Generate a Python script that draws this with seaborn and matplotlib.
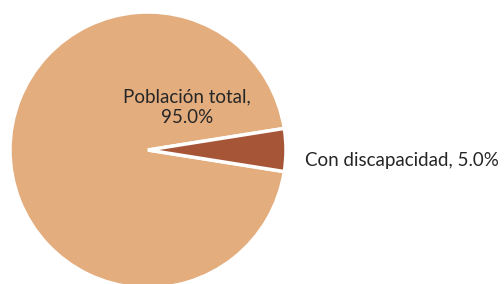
import matplotlib
matplotlib.use("Agg")
import matplotlib.pyplot as plt
import seaborn as sns

# data
categories = ["Población total", "Con discapacidad"]
values = [95.0, 5.0]
colors = ["#E3AD7E", "#A65537"]

sns.set_theme(style="white")
plt.rcParams["font.family"] = ["Lato", "DejaVu Sans"]

fig = plt.figure(figsize=(5.04, 2.84), dpi=100)
# pie runs off the bottom edge in the reference
ax = fig.add_axes([10 / 504, -4 / 284, 276 / 504, 276 / 284])

wedges, _ = ax.pie(
    values,
    colors=colors,
    startangle=9,
    counterclock=True,
    radius=1,
    wedgeprops=dict(edgecolor="white", linewidth=2.5),
)
ax.set_xlim(-1, 1)
ax.set_ylim(-1, 1)
ax.set_aspect("equal")
ax.axis("off")

total = sum(values)
pct = [v / total * 100 for v in values]

ax.text(0.28, 0.31, f"{categories[0]},\n{pct[0]:.1f}%", ha="center", va="center",
        fontsize=13.5, color="#262626", linespacing=1.25)
ax.text(1.135, -0.075, f"{categories[1]}, {pct[1]:.1f}%", ha="left", va="center",
        fontsize=13.5, color="#262626")

fig.savefig("out.png", dpi=100)
